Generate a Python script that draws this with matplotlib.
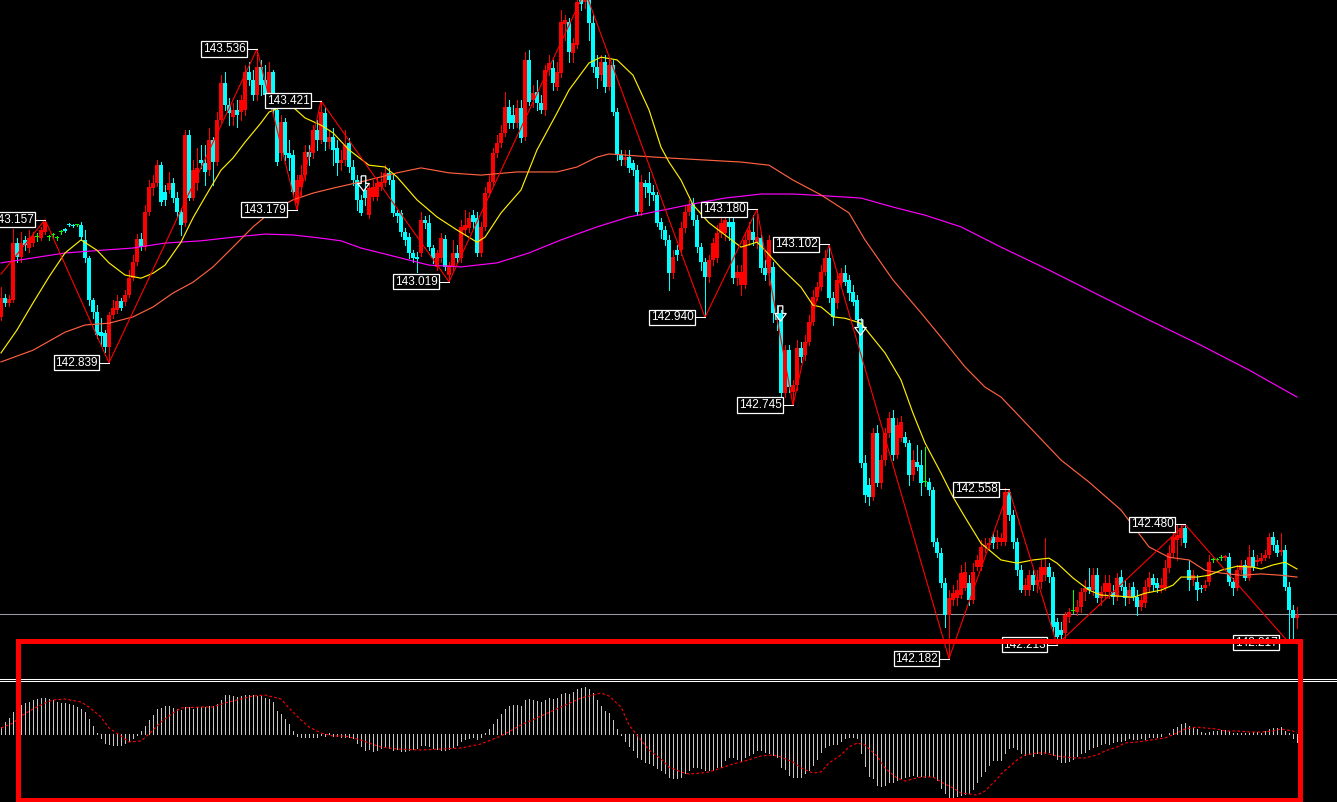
import numpy as np
import matplotlib.pyplot as plt
from matplotlib.patches import Rectangle
from matplotlib.lines import Line2D

# M5 bars, oldest first; prices in thousandths above 142.000
open_pts = [
    941, 983, 972, 978, 1105, 1074, 1112, 1094, 1105, 1118,
    1116, 1130, 1118, 1123, 1116, 1130, 1136, 1147, 1145, 1145,
    1145, 1112, 1072, 978, 952, 907, 905, 874, 945, 956,
    976, 974, 990, 1027, 1063, 1114, 1096, 1174, 1227, 1238,
    1278, 1218, 1223, 1238, 1205, 1174, 1150, 1345, 1205, 1238,
    1290, 1283, 1267, 1334, 1285, 1378, 1461, 1412, 1385, 1401,
    1396, 1401, 1485, 1467, 1434, 1496, 1467, 1434, 1485, 1401,
    1305, 1374, 1305, 1301, 1194, 1230, 1256, 1307, 1305, 1356,
    1334, 1394, 1329, 1341, 1316, 1283, 1290, 1327, 1274, 1245,
    1201, 1223, 1167, 1207, 1207, 1230, 1238, 1261, 1245, 1172,
    1172, 1130, 1118, 1083, 1074, 1083, 1156, 1150, 1094, 1052,
    1072, 1114, 1034, 1052, 1083, 1072, 1134, 1138, 1167, 1161,
    1083, 1141, 1216, 1241, 1305, 1327, 1350, 1407, 1389, 1372,
    1405, 1341, 1512, 1423, 1441, 1416, 1401, 1489, 1494, 1452,
    1483, 1592, 1596, 1527, 1545, 1645, 1641, 1652, 1594, 1496,
    1478, 1507, 1452, 1501, 1396, 1301, 1290, 1296, 1283, 1267,
    1174, 1238, 1238, 1218, 1212, 1152, 1134, 1112, 1038, 1089,
    1089, 1138, 1174, 1194, 1156, 1096, 1063, 1030, 1067, 1072,
    1127, 1127, 1152, 1152, 1027, 1012, 1012, 1112, 1130, 1105,
    1116, 1050, 1038, 1052, 950, 950, 772, 867, 774, 790,
    872, 856, 885, 930, 985, 1007, 1041, 1072, 983, 972,
    1016, 1038, 1023, 996, 978, 927, 616, 567, 541, 683,
    572, 623, 683, 716, 634, 672, 674, 661, 590, 618,
    612, 574, 574, 556, 441, 416, 350, 278, 312, 316,
    323, 338, 350, 312, 385, 385, 430, 434, 452, 441,
    441, 441, 552, 501, 441, 378, 334, 334, 367, 345,
    352, 367, 385, 363, 263, 245, 238, 274, 287, 285,
    296, 330, 341, 334, 367, 316, 330, 330, 330, 318,
    363, 341, 316, 341, 318, 296, 305, 341, 361, 350,
    338, 338, 383, 416, 445, 450, 472, 378, 356, 352,
    338, 338, 352, 401, 401, 405, 405, 407, 352, 338,
    378, 390, 361, 407, 396, 398, 405, 412, 452, 434,
    418, 423, 341, 290, 272,
]
close_pts = [
    983, 972, 981, 1105, 1074, 1105, 1101, 1116, 1121, 1118,
    1134, 1152, 1118, 1123, 1116, 1130, 1132, 1145, 1143, 1145,
    1118, 1072, 978, 952, 901, 898, 874, 945, 961, 976,
    961, 990, 1027, 1063, 1114, 1096, 1174, 1230, 1238, 1278,
    1196, 1201, 1238, 1205, 1174, 1145, 1345, 1205, 1267, 1272,
    1283, 1263, 1334, 1285, 1378, 1461, 1412, 1394, 1401, 1389,
    1423, 1485, 1467, 1434, 1496, 1456, 1434, 1485, 1401, 1285,
    1374, 1301, 1294, 1218, 1245, 1256, 1307, 1296, 1356, 1334,
    1396, 1329, 1341, 1312, 1283, 1290, 1323, 1274, 1245, 1201,
    1172, 1205, 1227, 1230, 1238, 1241, 1261, 1245, 1172, 1165,
    1130, 1112, 1083, 1072, 1070, 1156, 1150, 1096, 1072, 1083,
    1116, 1052, 1056, 1083, 1072, 1141, 1145, 1161, 1152, 1083,
    1141, 1216, 1241, 1305, 1327, 1350, 1407, 1372, 1372, 1405,
    1338, 1512, 1418, 1438, 1416, 1401, 1489, 1505, 1461, 1485,
    1596, 1601, 1529, 1549, 1641, 1636, 1656, 1594, 1496, 1472,
    1507, 1452, 1501, 1396, 1301, 1290, 1296, 1272, 1267, 1174,
    1241, 1230, 1216, 1212, 1150, 1134, 1112, 1038, 1074, 1078,
    1138, 1174, 1190, 1156, 1096, 1063, 1030, 1067, 1105, 1127,
    1150, 1156, 1141, 1027, 1041, 1041, 1112, 1134, 1112, 1118,
    1050, 1034, 1112, 950, 934, 772, 867, 785, 790, 872,
    852, 885, 930, 985, 1007, 1041, 1072, 983, 941, 1023,
    1038, 1018, 994, 974, 934, 616, 545, 541, 683, 572,
    623, 683, 716, 634, 701, 707, 661, 590, 623, 607,
    572, 574, 556, 441, 416, 350, 278, 316, 327, 334,
    372, 374, 312, 374, 401, 430, 434, 438, 438, 452,
    450, 552, 501, 441, 378, 334, 345, 367, 345, 356,
    385, 385, 363, 252, 230, 234, 278, 285, 287, 296,
    330, 338, 334, 367, 316, 330, 350, 350, 318, 361,
    341, 316, 334, 318, 296, 312, 341, 361, 345, 338,
    345, 383, 416, 452, 456, 472, 438, 356, 367, 334,
    336, 345, 396, 401, 401, 405, 410, 352, 338, 378,
    390, 361, 407, 385, 401, 405, 412, 452, 434, 416,
    423, 341, 290, 272, 278,
]
high_pts = [
    1007, 992, 990, 1136, 1116, 1130, 1121, 1134, 1130, 1127,
    1141, 1157, 1123, 1127, 1121, 1134, 1138, 1150, 1147, 1147,
    1152, 1134, 1076, 983, 967, 938, 912, 952, 978, 990,
    983, 1001, 1045, 1078, 1125, 1127, 1190, 1245, 1256, 1290,
    1285, 1234, 1263, 1250, 1218, 1183, 1356, 1356, 1290, 1316,
    1323, 1323, 1361, 1341, 1396, 1478, 1485, 1427, 1416, 1423,
    1434, 1501, 1507, 1489, 1536, 1512, 1501, 1507, 1489, 1412,
    1389, 1383, 1334, 1312, 1256, 1278, 1323, 1323, 1367, 1378,
    1421, 1405, 1356, 1361, 1334, 1312, 1356, 1338, 1290, 1256,
    1212, 1245, 1238, 1245, 1250, 1263, 1278, 1272, 1256, 1178,
    1178, 1138, 1127, 1089, 1085, 1174, 1165, 1167, 1101, 1089,
    1127, 1123, 1063, 1112, 1101, 1156, 1178, 1174, 1178, 1174,
    1152, 1230, 1256, 1316, 1345, 1367, 1441, 1423, 1412, 1423,
    1423, 1529, 1534, 1456, 1467, 1434, 1501, 1523, 1512, 1507,
    1623, 1612, 1605, 1561, 1656, 1663, 1665, 1663, 1612, 1523,
    1523, 1523, 1516, 1512, 1405, 1312, 1312, 1312, 1290, 1278,
    1256, 1245, 1263, 1234, 1218, 1161, 1143, 1123, 1089, 1101,
    1152, 1190, 1201, 1205, 1167, 1105, 1072, 1078, 1116, 1145,
    1167, 1167, 1174, 1161, 1056, 1056, 1130, 1152, 1167, 1180,
    1123, 1067, 1123, 1063, 967, 956, 878, 878, 801, 890,
    885, 901, 945, 1001, 1018, 1056, 1089, 1102, 996, 1041,
    1050, 1056, 1034, 1012, 990, 938, 634, 583, 694, 701,
    634, 694, 729, 734, 716, 721, 685, 667, 645, 656,
    645, 652, 583, 563, 450, 427, 361, 334, 345, 356,
    390, 396, 367, 394, 412, 445, 450, 450, 461, 467,
    461, 561, 558, 512, 450, 390, 361, 378, 378, 378,
    401, 450, 394, 374, 272, 263, 285, 294, 334, 312,
    338, 356, 383, 383, 383, 343, 367, 367, 345, 372,
    378, 356, 350, 352, 334, 323, 356, 374, 370, 361,
    361, 401, 434, 467, 478, 481, 480, 401, 378, 367,
    345, 356, 412, 405, 405, 412, 412, 416, 361, 390,
    401, 401, 434, 423, 412, 416, 423, 461, 463, 445,
    461, 434, 352, 301, 296,
]
low_pts = [
    934, 965, 965, 974, 1063, 1063, 1089, 1085, 1098, 1110,
    1112, 1125, 1112, 1118, 1112, 1125, 1130, 1143, 1141, 1143,
    1112, 1063, 967, 938, 894, 878, 863, 839, 938, 950,
    956, 967, 985, 1023, 1056, 1089, 1089, 1167, 1212, 1232,
    1190, 1190, 1216, 1196, 1163, 1123, 1143, 1201, 1201, 1223,
    1272, 1234, 1256, 1234, 1278, 1374, 1401, 1367, 1367, 1363,
    1378, 1389, 1456, 1423, 1423, 1434, 1423, 1427, 1394, 1278,
    1290, 1290, 1267, 1212, 1179, 1212, 1245, 1278, 1294, 1312,
    1327, 1312, 1316, 1278, 1256, 1267, 1278, 1263, 1234, 1178,
    1167, 1190, 1161, 1201, 1201, 1223, 1232, 1236, 1165, 1152,
    1121, 1101, 1072, 1063, 1041, 1076, 1138, 1089, 1061, 1045,
    1063, 1045, 1019, 1045, 1063, 1063, 1123, 1130, 1138, 1076,
    1076, 1134, 1210, 1234, 1296, 1318, 1343, 1361, 1361, 1363,
    1329, 1334, 1412, 1407, 1401, 1394, 1389, 1478, 1445, 1445,
    1474, 1556, 1507, 1507, 1538, 1623, 1627, 1556, 1485, 1449,
    1467, 1441, 1445, 1389, 1290, 1278, 1278, 1263, 1256, 1167,
    1167, 1207, 1190, 1201, 1143, 1116, 1101, 1001, 1027, 1067,
    1078, 1130, 1167, 1145, 1085, 1045, 940, 1018, 1056, 1063,
    1118, 1112, 1112, 1016, 1012, 990, 1005, 1101, 1101, 1094,
    1041, 1023, 1012, 930, 912, 763, 763, 774, 745, 778,
    841, 845, 878, 923, 978, 1001, 1034, 974, 923, 961,
    1007, 1012, 978, 967, 923, 607, 530, 523, 534, 565,
    561, 612, 674, 623, 627, 665, 654, 567, 578, 601,
    545, 565, 545, 432, 407, 341, 252, 182, 301, 301,
    316, 334, 301, 305, 378, 378, 418, 423, 427, 427,
    434, 434, 489, 427, 367, 330, 323, 323, 334, 330,
    338, 356, 352, 241, 213, 223, 223, 263, 283, 278,
    285, 312, 327, 323, 307, 301, 316, 316, 303, 312,
    334, 301, 305, 312, 278, 290, 296, 330, 334, 330,
    330, 334, 374, 407, 401, 434, 430, 334, 345, 312,
    330, 334, 345, 396, 398, 401, 401, 345, 323, 334,
    372, 356, 356, 378, 390, 394, 401, 405, 423, 410,
    412, 334, 217, 223, 250,
]

# moving averages (bar index, thousandths above 142.000)
ma_fast_i = [0, 4, 8, 12, 16, 20, 24, 27, 31, 35, 38, 41, 45, 48, 51, 55, 58, 61, 65, 67,
             70, 73, 76, 80, 83, 87, 92, 96, 99, 104, 109, 114, 119, 121, 125, 130, 134, 139, 142, 147,
             150, 154, 158, 162, 165, 167, 170, 173, 177, 181, 185, 189, 191, 195, 200, 203, 205, 208, 211, 215,
             218, 221, 225, 228, 231, 235, 238, 241, 245, 248, 250, 254, 258, 262, 264, 268, 272, 275, 279, 283,
             286, 290, 293, 295, 299, 302, 305, 309, 313, 315, 318, 321, 324]
ma_fast = [861, 912, 972, 1030, 1083, 1112, 1089, 1061, 1034, 1027, 1038, 1056, 1107, 1161, 1207, 1267, 1294, 1329, 1372, 1396,
           1407, 1407, 1383, 1367, 1350, 1312, 1278, 1274, 1252, 1201, 1163, 1134, 1107, 1118, 1172, 1223, 1312, 1394, 1445, 1505,
           1518, 1512, 1478, 1401, 1318, 1285, 1245, 1190, 1150, 1123, 1096, 1107, 1089, 1050, 1007, 967, 963, 941, 938, 927,
           894, 861, 801, 727, 661, 594, 541, 496, 438, 416, 401, 394, 401, 405, 394, 361, 334, 323, 321, 318,
           327, 334, 345, 363, 363, 367, 378, 387, 385, 381, 390, 396, 381]
ma_mid_i = [0, 8, 16, 21, 27, 33, 38, 43, 48, 53, 58, 63, 68, 73, 78, 83, 90, 99, 105, 112,
            120, 129, 139, 144, 149, 152, 160, 167, 175, 185, 192, 198, 205, 212, 216, 223, 230, 235, 241, 246,
            250, 265, 272, 280, 287, 292, 297, 301, 305, 310, 315, 320, 324]
ma_mid = [841, 867, 907, 923, 927, 941, 963, 994, 1018, 1052, 1096, 1141, 1178, 1201, 1216, 1227, 1241, 1261, 1272, 1261,
          1256, 1263, 1263, 1274, 1296, 1303, 1298, 1294, 1290, 1285, 1278, 1245, 1212, 1172, 1112, 1023, 950, 896, 830, 785,
          763, 623, 574, 512, 430, 407, 401, 378, 372, 367, 370, 367, 363]
ma_slow_i = [0, 8, 16, 25, 33, 41, 50, 58, 66, 73, 80, 85, 90, 99, 107, 115, 124, 132, 140, 149,
             157, 167, 173, 181, 190, 198, 206, 215, 223, 231, 240, 250, 262, 275, 287, 300, 312, 324]
ma_slow = [1061, 1072, 1083, 1089, 1094, 1105, 1110, 1118, 1125, 1123, 1116, 1110, 1094, 1074, 1056, 1052, 1061, 1083, 1112, 1141,
           1163, 1181, 1192, 1205, 1214, 1214, 1210, 1205, 1185, 1167, 1141, 1096, 1045, 987, 934, 878, 823, 763]

# zigzag swing points (bar index, price)
zz_i = [0, 11, 27, 64, 74, 80, 112, 146, 176, 189, 198, 207, 237, 252, 264, 296, 322]
zz_p = [143.036, 143.157, 142.839, 143.536, 143.179, 143.421, 143.019, 143.665, 142.940,
        143.180, 142.745, 143.102, 142.182, 142.558, 142.213, 142.480, 142.217]

# arrow signals (bar index, price)
arrow_i = [90.5, 194.75, 214.75]
arrow_p = [143.238, 142.950, 142.918]

bid = 142.281

# MACD histogram and signal (units of 0.001)
macd_hist = [
    7, 12, 16, 22, 26, 29, 31, 32, 34, 35,
    36, 36, 35, 34, 32, 31, 31, 30, 29, 27,
    25, 22, 15, 8, 1, -4, -9, -10, -11, -11,
    -11, -9, -7, -4, -1, 3, 8, 14, 19, 25,
    26, 28, 28, 26, 25, 24, 27, 27, 25, 27,
    27, 27, 28, 28, 30, 34, 39, 39, 38, 37,
    38, 39, 39, 39, 38, 38, 36, 35, 32, 23,
    20, 15, 10, 3, -2, -3, -3, -3, -3, -3,
    -1, -2, 1, -2, -2, -3, -3, -3, -4, -9,
    -12, -16, -15, -17, -16, -14, -13, -14, -16, -15,
    -17, -17, -16, -15, -14, -11, -11, -12, -14, -15,
    -16, -16, -15, -13, -11, -7, -5, -4, -3, -5,
    -3, 1, 5, 10, 15, 20, 25, 28, 29, 29,
    28, 34, 35, 34, 33, 32, 34, 36, 35, 36,
    40, 41, 40, 42, 45, 46, 47, 45, 41, 34,
    28, 23, 21, 14, 5, -1, -7, -12, -16, -23,
    -25, -28, -29, -31, -34, -36, -39, -43, -44, -44,
    -43, -39, -36, -33, -33, -34, -36, -36, -36, -33,
    -33, -26, -23, -23, -25, -27, -23, -21, -19, -16,
    -16, -18, -19, -21, -23, -33, -35, -41, -43, -43,
    -43, -39, -36, -31, -25, -18, -13, -11, -10, -10,
    -7, -4, -3, -3, -4, -19, -32, -42, -44, -51,
    -52, -51, -48, -48, -46, -44, -43, -42, -41, -42,
    -42, -43, -42, -43, -46, -54, -59, -63, -63, -62,
    -61, -60, -59, -55, -48, -42, -37, -31, -26, -26,
    -26, -19, -14, -13, -15, -19, -21, -20, -22, -19,
    -20, -19, -18, -21, -25, -28, -28, -27, -25, -22,
    -19, -18, -15, -13, -12, -10, -9, -10, -8, -7,
    -7, -6, -4, -5, -5, -4, -5, -3, -3, -3,
    -2, 0, 1, 5, 7, 10, 11, 8, 7, 5,
    2, 1, 2, 3, 3, 4, 4, 3, 1, 1,
    1, 1, 1, 2, 2, 1, 3, 5, 6, 6,
    7, 3, 1, -4, -8,
]
sig_i = [0, 3, 5, 8, 11, 13, 16, 20, 22, 25, 27, 30, 32, 35, 37, 40, 43, 45, 50, 53,
         56, 60, 63, 66, 70, 72, 75, 77, 80, 83, 86, 90, 92, 95, 99, 105, 110, 115, 120, 125,
         130, 135, 140, 145, 150, 152, 155, 157, 160, 162, 165, 167, 170, 172, 175, 177, 180, 183, 186, 190,
         193, 195, 198, 200, 203, 205, 207, 210, 212, 214, 216, 219, 221, 224, 226, 230, 233, 235, 238, 240,
         244, 246, 249, 250, 252, 254, 256, 259, 261, 264, 266, 269, 271, 274, 276, 279, 281, 284, 286, 289,
         291, 294, 296, 299, 301, 304, 306, 309, 312, 315, 318, 320, 323, 324]
sig_v = [6, 11, 18, 25, 31, 34, 35, 32, 27, 17, 6, -2, -8, -7, 0, 12, 21, 26, 27, 27,
         31, 35, 38, 39, 35, 26, 14, 7, 1, -2, -2, -6, -9, -13, -15, -16, -15, -14, -10, -2,
         9, 18, 27, 36, 41, 38, 27, 9, -6, -16, -25, -33, -38, -40, -39, -38, -34, -30, -27, -22,
         -21, -23, -28, -34, -39, -38, -29, -21, -13, -9, -11, -22, -34, -44, -47, -43, -43, -48, -54, -59,
         -61, -57, -45, -40, -33, -26, -21, -19, -19, -22, -23, -24, -24, -21, -17, -13, -9, -8, -7, -5,
         -4, 1, 5, 7, 6, 5, 3, 3, 2, 2, 3, 5, 3, 1]

n = len(close_pts)
assert len(open_pts) == n and len(high_pts) == n and len(low_pts) == n and len(macd_hist) == n
assert len(ma_fast_i) == len(ma_fast) and len(ma_mid_i) == len(ma_mid) and len(ma_slow_i) == len(ma_slow)
assert len(sig_i) == len(sig_v)

o = 142 + np.array(open_pts) / 1000
c = 142 + np.array(close_pts) / 1000
h = 142 + np.array(high_pts) / 1000
l = 142 + np.array(low_pts) / 1000
idx = np.arange(n)

W, H = 1337, 802
fig = plt.figure(figsize=(W / 100, H / 100), dpi=100, facecolor='black')

ax = fig.add_axes([0, (H - 677) / H, 1, 677 / H])
ax.set_facecolor('black')
ax.set_xlim(-0.25, 334)
ax.set_ylim(142.141, 143.645)
ax.axis('off')

ax.axhline(bid, color='#9a9aa2', lw=0.75, zorder=1)

up, dn, dj = c > o, c < o, c == o
for m, col in [(up, '#ff0000'), (dn, '#00ffff'), (dj, '#00ff00')]:
    ax.vlines(idx[m], l[m], h[m], color=col, lw=0.72, zorder=2, antialiased=False)
    ax.bar(idx[m], np.maximum(np.abs(c - o)[m], 0.0022), bottom=np.minimum(o, c)[m], width=0.78,
           color=col, lw=0, zorder=3, antialiased=False)

ax.plot(ma_slow_i, 142 + np.array(ma_slow) / 1000, color='#ff00ff', lw=0.85, zorder=4)
ax.plot(ma_mid_i, 142 + np.array(ma_mid) / 1000, color='#ff6040', lw=0.85, zorder=4)
ax.plot(ma_fast_i, 142 + np.array(ma_fast) / 1000, color='#ffee00', lw=0.85, zorder=4)
ax.plot(zz_i, zz_p, color='#ff0000', lw=0.8, zorder=5)

arrow = [(-0.3, 1), (0.3, 1), (0.3, 0), (0.75, 0), (0, -1), (-0.75, 0), (-0.3, 0), (-0.3, 1)]
ax.plot(arrow_i, arrow_p, ls='none', marker=arrow, markersize=11, mfc='none',
        mec='white', mew=0.9, zorder=6)

for i, p in zip(zz_i[1:], zz_p[1:]):
    if p > 143.64:
        continue
    ax.plot([i - 2.25, i], [p, p], color='white', lw=0.75, zorder=7)
    ax.text(i - 2.8, p, f"{p:.3f}", ha='right', va='center', color='white',
            fontsize=8.5, family='Liberation Sans', zorder=8,
            bbox=dict(boxstyle='square,pad=0.14', fc='black', ec='white', lw=0.9))

# window separator
for yy in (678.5, 680.5):
    fig.add_artist(Line2D([0, 1], [1 - yy / H] * 2, color='white', lw=0.75))

mx = fig.add_axes([0, 0, 1, 121 / H])
mx.set_facecolor('black')
mx.set_xlim(-0.25, 334)
mx.set_ylim(-68, 53)
mx.axis('off')
mx.vlines(idx, 0, macd_hist, color='#c8c8c8', lw=0.72, antialiased=False)
mx.plot(sig_i, sig_v, color='#ff0000', lw=0.8, ls=(0, (2.5, 2)))

# red highlight box
fig.add_artist(Rectangle((17.5 / W, 1 - 799.5 / H), (1299.5 - 17.5) / W, (799.5 - 640.5) / H,
                         transform=fig.transFigure, fill=False, ec='#ff0000', lw=3.6, zorder=20))

fig.savefig('out.png', dpi=100, facecolor='black')
